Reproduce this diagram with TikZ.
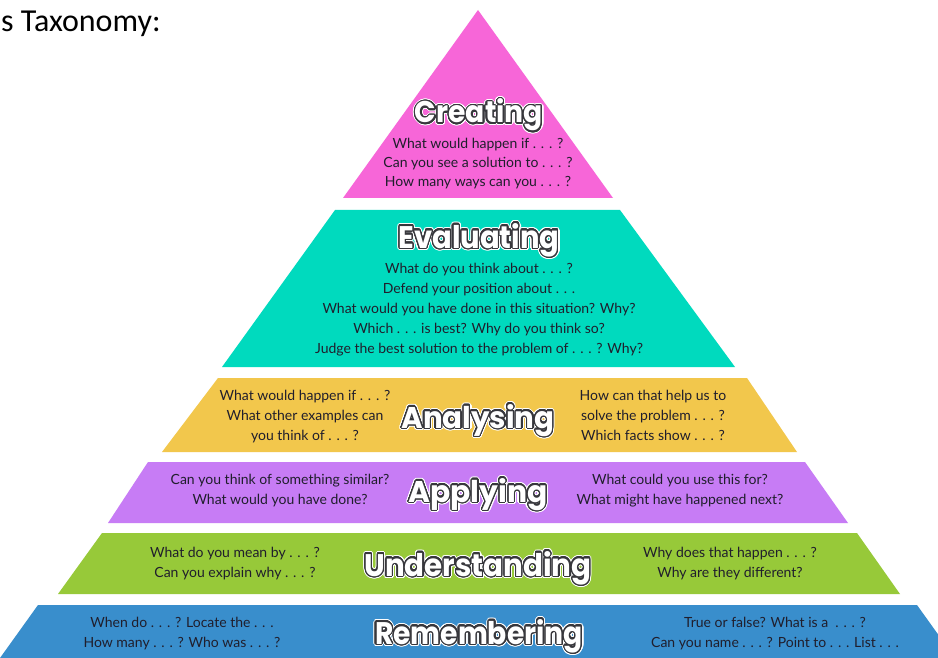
\documentclass[tikz,border=0pt]{standalone}
\usepackage{fontspec}
\usepackage[copies]{contour}
\contournumber{32}
\newfontfamily\bodyfont{Lato}
\newfontfamily\titlefont{Poppins}
\newfontfamily\headfont{Carlito}
\definecolor{cpink}{RGB}{247,102,216}
\definecolor{cteal}{RGB}{0,218,190}
\definecolor{cyellow}{RGB}{242,199,76}
\definecolor{cpurple}{RGB}{199,124,245}
\definecolor{cgreen}{RGB}{151,201,57}
\definecolor{cblue}{RGB}{57,142,204}
\definecolor{bodytext}{RGB}{32,30,44}
\definecolor{titleline}{RGB}{55,55,60}
\newcommand{\bloomtitle}[3]{\resizebox{#1}{#2}{\titlefont\bfseries\fontsize{30}{30}\selectfont\color{white}%
  \rlap{\contourlength{2.4pt}\contour{white}{#3}}{\contourlength{1.2pt}\contour{titleline}{#3}}}}
\tikzset{
  band/.style={draw=none},
  body/.style={font=\bodyfont\fontsize{14}{20}\selectfont, text=bodytext, align=center, inner sep=0pt},
  ttl/.style={anchor=base, inner sep=0pt},
}
\begin{document}
\begin{tikzpicture}[x=1pt,y=-1pt]
\fill[white] (0,0) rectangle (938,658);
\useasboundingbox (0,0) rectangle (938,658);
\begin{scope}
\clip (0,0) rectangle (938,658);
\fill[band, cpink]   (478,10) -- (613,198) -- (343,198) -- cycle;
\fill[band, cteal]   (335,210) -- (620,210) -- (735,367) -- (222,367) -- cycle;
\fill[band, cyellow] (218,378) -- (747,378) -- (797,452) -- (162,452) -- cycle;
\fill[band, cpurple] (148,462) -- (805,462) -- (848,523) -- (108,523) -- cycle;
\fill[band, cgreen]  (102,533) -- (857,533) -- (900,594) -- (58,594) -- cycle;
\fill[band, cblue]   (38,605) -- (917,605) -- (960,665) -- (-5,665) -- cycle;
\end{scope}

\node[anchor=base west, inner sep=0pt, font=\headfont\fontsize{32}{32}\selectfont] (head) at (1,32) {s Taxonomy:};

\node[ttl] (creating) at (479,123) {\bloomtitle{128pt}{24pt}{Creating}};
\node[body, font=\bodyfont\fontsize{14}{19}\selectfont] (creatingq) at (478,163.5) {What would happen if . . . ?\\Can you see a solution to . . . ?\\How many ways can you . . . ?};

\node[ttl] (evaluating) at (479,248) {\bloomtitle{161pt}{25pt}{Evaluating}};
\node[body] (evaluatingq) at (479,309.5) {What do you think about . . . ?\\Defend your position about . . .\\What would you have done in this situation? Why?\\Which . . . is best? Why do you think so?\\Judge the best solution to the problem of . . . ? Why?};

\node[ttl] (analysing) at (478,428) {\bloomtitle{153pt}{24pt}{Analysing}};
\node[body] (analysingl) at (305,416.5) {What would happen if . . . ?\\What other examples can\\you think of . . . ?};
\node[body] (analysingr) at (653,415.5) {How can that help us to\\solve the problem . . . ?\\Which facts show . . . ?};

\node[ttl] (applying) at (478,502) {\bloomtitle{139pt}{24pt}{Applying}};
\node[body] (applyingl) at (280,490.5) {Can you think of something similar?\\What would you have done?};
\node[body] (applyingr) at (680,490.5) {What could you use this for?\\What might have happened next?};

\node[ttl] (understanding) at (478,576) {\bloomtitle{227pt}{25pt}{Understanding}};
\node[body] (understandingl) at (235,563.5) {What do you mean by . . . ?\\Can you explain why . . . ?};
\node[body] (understandingr) at (730,563.5) {Why does that happen . . . ?\\Why are they different?};

\node[ttl] (remembering) at (479,644) {\bloomtitle{208pt}{25pt}{Remembering}};
\node[body] (rememberingl) at (182,633.5) {When do . . . ? Locate the . . .\\How many . . . ? Who was . . . ?};
\node[body] (rememberingr) at (775,633.5) {True or false? What is a \ . . . ?\\Can you name . . . ? Point to . . . List . . .};
\end{tikzpicture}
\end{document}
